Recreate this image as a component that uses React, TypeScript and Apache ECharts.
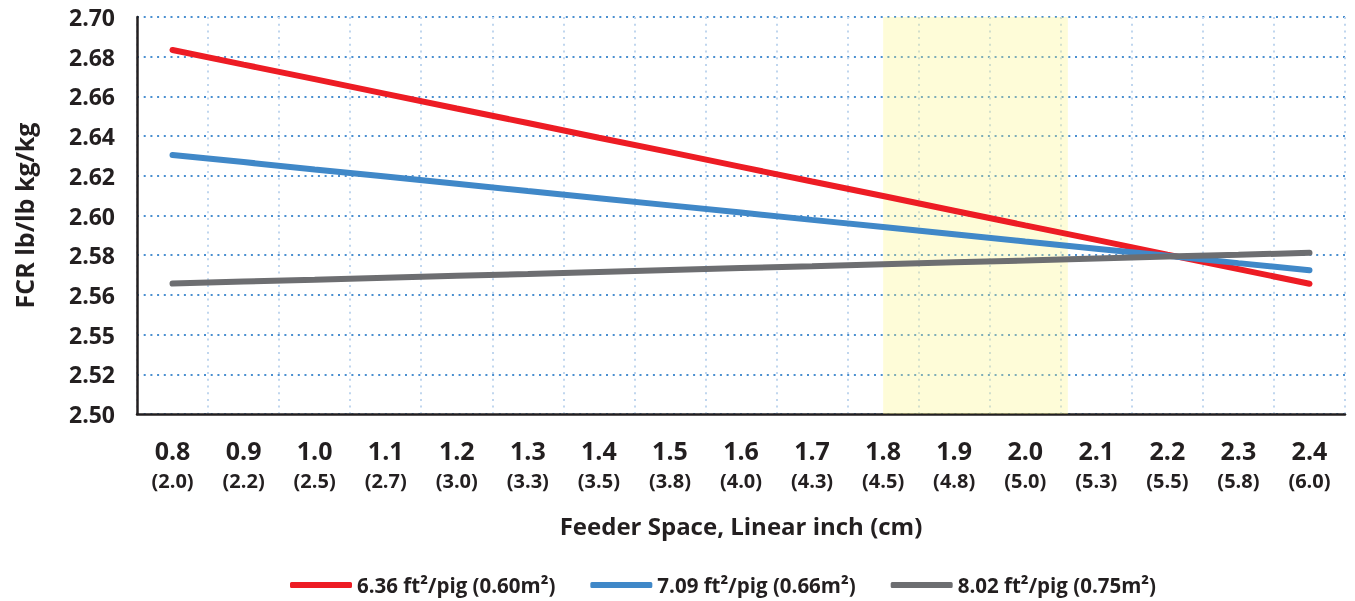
import React, { useEffect, useRef } from "react";
import * as echarts from "echarts";

const inchLabels = ["0.8", "0.9", "1.0", "1.1", "1.2", "1.3", "1.4", "1.5", "1.6", "1.7", "1.8", "1.9", "2.0", "2.1", "2.2", "2.3", "2.4"];
const cmLabels = ["(2.0)", "(2.2)", "(2.5)", "(2.7)", "(3.0)", "(3.3)", "(3.5)", "(3.8)", "(4.0)", "(4.3)", "(4.5)", "(4.8)", "(5.0)", "(5.3)", "(5.5)", "(5.8)", "(6.0)"];

const yTickLabels = ["2.50", "2.52", "2.55", "2.56", "2.58", "2.60", "2.62", "2.64", "2.66", "2.68", "2.70"];

const seriesNames = ["6.36 ft²/pig (0.60m²)", "7.09 ft²/pig (0.66m²)", "8.02 ft²/pig (0.75m²)"];
const red636 = [2.6834, 2.676, 2.6687, 2.6613, 2.6539, 2.6466, 2.6392, 2.6319, 2.6245, 2.6171, 2.6098, 2.6024, 2.595, 2.5877, 2.5803, 2.573, 2.5656];
const blue709 = [2.6305, 2.6269, 2.6232, 2.6196, 2.616, 2.6123, 2.6087, 2.6051, 2.6015, 2.5978, 2.5942, 2.5906, 2.5869, 2.5833, 2.5797, 2.576, 2.5724];
const gray802 = [2.5657, 2.5667, 2.5676, 2.5686, 2.5696, 2.5705, 2.5715, 2.5725, 2.5735, 2.5744, 2.5754, 2.5764, 2.5773, 2.5783, 2.5793, 2.5802, 2.5812];

// highlighted feeder-space range (inch)
const shadedRange = [1.8, 2.06];

const FONT = "'Open Sans', sans-serif";
const TXT = "#231f20";

export default function App() {
  const ref = useRef<HTMLDivElement>(null);
  useEffect(() => {
    if (!ref.current) return;
    const chart = echarts.init(ref.current, null, { renderer: "svg" });
    const colors = ["#ed1c24", "#4088c8", "#6d6e71"];
    const lineSeries = [red636, blue709, gray802].map((d, i) => ({
      name: seriesNames[i],
      type: "line",
      data: d,
      symbol: "none",
      lineStyle: { width: 6, color: colors[i], cap: "round" },
      itemStyle: { color: colors[i] },
      z: 5 + i,
    }));
    chart.setOption({
      animation: false,
      textStyle: { fontFamily: FONT },
      grid: { left: 137, right: 10, top: 17, bottom: 187 },
      legend: {
        top: 572,
        left: 290,
        padding: 0,
        icon: "roundRect",
        itemWidth: 62,
        itemHeight: 6,
        itemGap: 35,
        textStyle: { fontFamily: FONT, fontSize: 20.5, fontWeight: "bold", color: TXT, lineHeight: 26 },
        data: seriesNames,
      },
      xAxis: [
        {
          type: "category",
          data: inchLabels,
          boundaryGap: true,
          name: "Feeder Space, Linear inch (cm)",
          nameLocation: "middle",
          nameGap: 99,
          nameTextStyle: { fontFamily: FONT, fontSize: 24, fontWeight: "bold", color: TXT },
          axisLine: { lineStyle: { color: TXT, width: 2.5 } },
          axisTick: { show: false },
          axisLabel: {
            margin: 20,
            interval: 0,
            formatter: (v: string, i: number) => `{a|${v}}\n{b|${cmLabels[i]}}`,
            rich: {
              a: { fontFamily: FONT, fontSize: 25, fontWeight: "bold", color: TXT, lineHeight: 31 },
              b: { fontFamily: FONT, fontSize: 20, fontWeight: "bold", color: TXT, lineHeight: 31 },
            },
          },
          splitLine: { show: true, interval: 0, lineStyle: { color: "#c0d6ee", width: 2, type: [2, 4.7] } },
        },
        {
          type: "value",
          min: 0.75,
          max: 2.45,
          show: false,
        },
      ],
      yAxis: {
        type: "value",
        min: 2.5,
        max: 2.7,
        interval: 0.02,
        name: "FCR lb/lb kg/kg",
        nameLocation: "middle",
        nameRotate: 90,
        nameGap: 101,
        nameTextStyle: { fontFamily: FONT, fontSize: 25, fontWeight: "bold", color: TXT },
        axisLine: { show: true, lineStyle: { color: TXT, width: 2.5 } },
        axisTick: { show: false },
        axisLabel: {
          margin: 22,
          fontFamily: FONT,
          fontSize: 23,
          fontWeight: "bold",
          color: TXT,
          formatter: (v: number) => yTickLabels[Math.round((v - 2.5) / 0.02)] ?? "",
        },
        splitLine: { show: true, lineStyle: { color: "#4a8fd0", width: 2, type: [2, 4.7] } },
      },
      series: [
        {
          type: "line",
          xAxisIndex: 1,
          data: [],
          silent: true,
          z: 1,
          markArea: {
            silent: true,
            itemStyle: { color: "rgba(252, 244, 125, 0.3)" },
            data: [[{ xAxis: shadedRange[0] }, { xAxis: shadedRange[1] }]],
          },
        },
        ...lineSeries,
      ],
    });
    return () => chart.dispose();
  }, []);
  return <div ref={ref} style={{ position: "fixed", left: 0, top: 0, width: 1355, height: 601 }} />;
}
